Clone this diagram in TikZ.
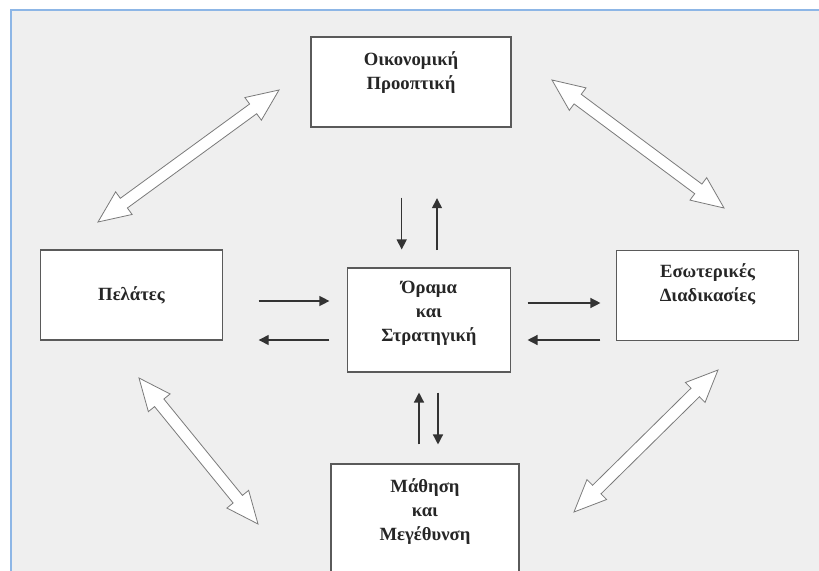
\documentclass[tikz,border=0pt]{standalone}
\usepackage{fontspec}
\setmainfont{Liberation Serif}
\usepackage{tikz}
\usetikzlibrary{arrows.meta,positioning,calc}
\usepackage{xcolor}
\definecolor{panelgray}{HTML}{EFEFEF}
\definecolor{frameblue}{HTML}{8DB6E6}
\definecolor{boxline}{HTML}{5A5A5A}
\definecolor{flowgray}{HTML}{333333}
\definecolor{hollowline}{HTML}{7A7A7A}

% hollow two-headed arrow from #1 to #2
\newcommand\twoway[2]{%
  \draw[hollow] (#1)
    -- ($(#1)!24pt!(#2)!10.5pt!90:(#2)$) -- ($(#1)!24pt!(#2)!4.5pt!90:(#2)$)
    -- ($(#2)!24pt!(#1)!4.5pt!-90:(#1)$) -- ($(#2)!24pt!(#1)!10.5pt!-90:(#1)$)
    -- (#2)
    -- ($(#2)!24pt!(#1)!10.5pt!90:(#1)$) -- ($(#2)!24pt!(#1)!4.5pt!90:(#1)$)
    -- ($(#1)!24pt!(#2)!4.5pt!-90:(#2)$) -- ($(#1)!24pt!(#2)!10.5pt!-90:(#2)$)
    -- cycle;}

\begin{document}
\begin{tikzpicture}[
  x=0.75pt, y=-0.75pt,
  box/.style={draw=boxline, line width=0.8pt, fill=white, inner sep=0pt, align=center,
    text=black!85, font=\fontsize{14}{18}\selectfont\bfseries},
  caption/.style={inner sep=0pt, align=center, text=black!85, font=\fontsize{14}{18}\selectfont\bfseries},
  flow/.style={-{Triangle[length=7.5pt, width=7.5pt]}, line width=1pt, draw=flowgray},
  hollow/.style={draw=hollowline, line width=0.6pt, fill=white, line join=miter},
]
  \useasboundingbox (0,0) rectangle (819,571);
  \clip (0,0) rectangle (819,571);
  \fill[white] (0,0) rectangle (819,571);
  \fill[panelgray] (11,10) rectangle (819,571);
  \draw[frameblue, line width=1.6pt] (11,571) -- (11,10) -- (819,10);

  \node[box, minimum width=150pt, minimum height=67.5pt] (fin) at (411,82) {};
  \node[caption, below=11pt of fin.north] (fin-t) {Οικονομική\\Προοπτική};
  \node[box, minimum width=122pt, minimum height=78pt] (vis) at (429,320) {};
  \node[caption, below=10pt of vis.north] (vis-t) {Όραμα\\και\\Στρατηγική};
  \node[box, minimum width=136pt, minimum height=67.5pt] (cus) at (131.5,295) {Πελάτες};
  \node[box, minimum width=136pt, minimum height=67pt] (int) at (707.5,295.5) {};
  \node[caption, below=10pt of int.north] (int-t) {Εσωτερικές\\Διαδικασίες};
  \node[box, minimum width=141pt, minimum height=102pt] (lrn) at (425,532) {};
  \node[caption, below=11pt of lrn.north] (lrn-t) {Μάθηση\\και\\Μεγέθυνση};

  \draw[flow, shorten <=52.5pt, shorten >=13.5pt] (401.7,0 |- fin.south) -- (401.7,0 |- vis.north);
  \draw[flow, shorten <=13pt, shorten >=53pt] (437,0 |- vis.north) -- (437,0 |- fin.south);
  \draw[flow, shorten <=27pt, shorten >=13.3pt] (cus.east |- 0,301) -- (vis.west |- 0,301);
  \draw[flow, shorten <=13.3pt, shorten >=27pt] (vis.west |- 0,340) -- (cus.east |- 0,340);
  \draw[flow, shorten <=12.5pt, shorten >=11.9pt] (vis.east |- 0,303) -- (int.west |- 0,303);
  \draw[flow, shorten <=11.9pt, shorten >=12.5pt] (int.west |- 0,340) -- (vis.east |- 0,340);
  \draw[flow, shorten <=14.25pt, shorten >=15pt] (419,0 |- lrn.north) -- (419,0 |- vis.south);
  \draw[flow, shorten <=15pt, shorten >=14.25pt] (438,0 |- vis.south) -- (438,0 |- lrn.north);

  \coordinate (nw1) at (98,222);  \coordinate (nw2) at (279,90);
  \coordinate (ne1) at (552,80);  \coordinate (ne2) at (724,208);
  \coordinate (sw1) at (139,378); \coordinate (sw2) at (258,524);
  \coordinate (se1) at (574,512); \coordinate (se2) at (718,370);
  \twoway{nw1}{nw2}
  \twoway{ne1}{ne2}
  \twoway{sw1}{sw2}
  \twoway{se1}{se2}
\end{tikzpicture}
\end{document}
